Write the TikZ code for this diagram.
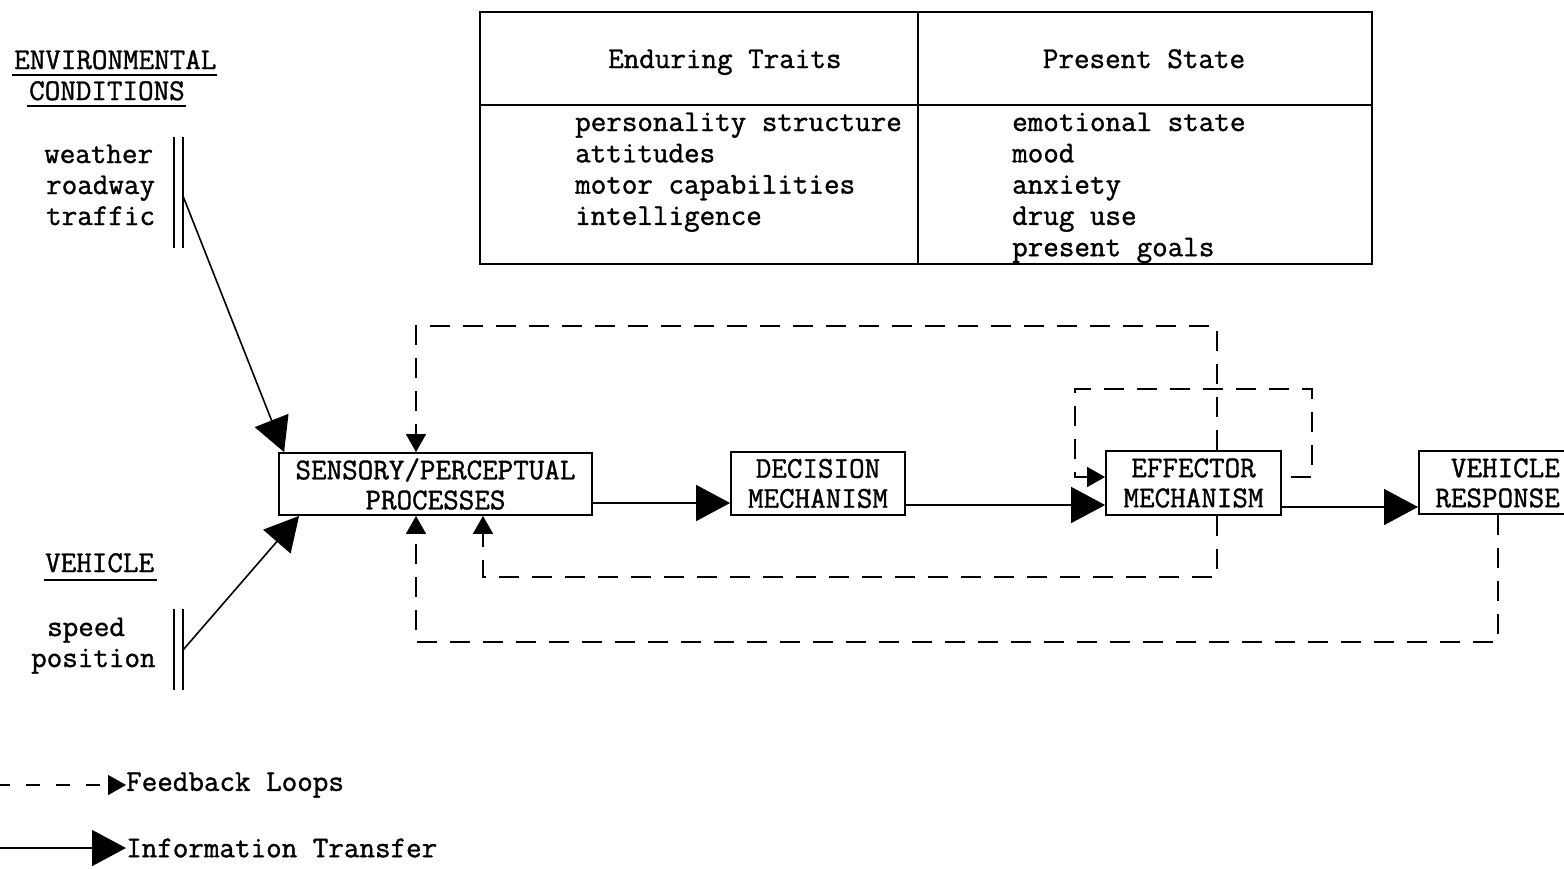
\documentclass[tikz,border=0pt]{standalone}
\usepackage{fontspec}
\newfontfamily\twfont{Latin Modern Mono}[FakeBold=1.2]
\usetikzlibrary{arrows.meta,calc}
\tikzset{
  txt/.style={font=\twfont\fontsize{30.2}{30}\selectfont, inner sep=0pt},
  box/.style={draw, line width=1.8pt, txt, align=center},
  fb/.style={line width=1.6pt, dash pattern=on 20pt off 13pt},
  info/.style={line width=1.6pt, -{Triangle[length=34pt,width=36pt]}},
  fbarrow/.style={fb, -{Triangle[length=18pt,width=20pt]}},
  rule/.style={line width=1.8pt}
}
\begin{document}
\begin{tikzpicture}[x=1pt,y=-1pt]
\useasboundingbox (0,0) rectangle (1564,868);
\clip (0,0) rectangle (1564,868);
\fill[white] (0,0) rectangle (1564,868);

% ---- table ----
\draw[rule] (480,12) rectangle (1372,264);
\draw[rule] (918,12) -- (918,264);
\draw[rule] (480,105) -- (1372,105);
\node[txt, anchor=base west] (hdrE) at (608,68) {Enduring Traits};
\node[txt, anchor=base] (hdrP) at (1144,68) {Present State};
\foreach \t [count=\i] in {personality structure, attitudes, motor capabilities, intelligence}
  \node[txt, anchor=base west] (et\i) at (575,{131+31.3*(\i-1)}) {\t};
\foreach \t [count=\i] in {emotional state, mood, anxiety, drug use, present goals}
  \node[txt, anchor=base west] (ps\i) at (1012,{131+31.3*(\i-1)}) {\t};

% ---- environmental conditions ----
\node[txt, anchor=base west] (env1) at (14,69) {ENVIRONMENTAL};
\node[txt, anchor=base west] (env2) at (29,100) {CONDITIONS};
\draw[line width=1.4pt] (12,75) -- (217,75);
\draw[line width=1.4pt] (27,106) -- (186,106);
\node[txt, anchor=base west] (w1) at (44,163) {weather};
\node[txt, anchor=base west] (w2) at (46,194) {roadway};
\node[txt, anchor=base west] (w3) at (46,225) {traffic};
\draw[line width=1.6pt] (174,137) -- (174,248);
\draw[line width=1.6pt] (183,137) -- (183,248);
\coordinate (envp) at (183,196);

% ---- vehicle ----
\node[txt, anchor=base west] (vh) at (45,572) {VEHICLE};
\draw[line width=1.4pt] (44,580) -- (157,580);
\node[txt, anchor=base west] (v1) at (47,636) {speed};
\node[txt, anchor=base west] (v2) at (31,667) {position};
\draw[line width=1.6pt] (174,609) -- (174,690);
\draw[line width=1.6pt] (183,609) -- (183,690);
\coordinate (vehp) at (183,650);

% ---- process boxes ----
\node[box, minimum width=313pt, minimum height=62pt] (sens) at (435.5,484) {SENSORY/PERCEPTUAL\\PROCESSES};
\node[box, minimum width=174pt, minimum height=63pt] (dec) at (818,483.5) {DECISION\\MECHANISM};
\node[box, minimum width=175pt, minimum height=64pt] (eff) at (1193.5,483) {EFFECTOR\\MECHANISM};
\node[draw, line width=1.8pt, minimum width=170pt, minimum height=63pt, anchor=west] (veh) at (1418,482.5) {};
\node[txt, align=right, anchor=east] (vehtxt) at (1560,483) {VEHICLE\\RESPONSE};

% ---- information transfer ----
\draw[info] (envp) -- ([xshift=6pt]sens.north west);
\draw[info] (vehp) -- ([xshift=21pt]sens.south west);
\coordinate (r1) at (0,503);
\coordinate (r2) at (0,505);
\coordinate (r3) at (0,507);
\draw[info] (sens.east |- r1) -- (dec.west |- r1);
\draw[info] (dec.east |- r2) -- (eff.west |- r2);
\draw[info] (eff.east |- r3) -- (veh.west |- r3);

% ---- feedback loops ----
\coordinate (xA) at (1217,0);
\coordinate (xS) at (416,0);
\coordinate (xS2) at (483,0);
\coordinate (xV) at (1498,0);
\coordinate (xR) at (1312,0);
\coordinate (xL) at (1075,0);
\coordinate (ytop) at (0,326);
\coordinate (yself) at (0,389);
\coordinate (ys2) at (0,477);
\coordinate (yb1) at (0,577);
\coordinate (yb2) at (0,642);
\draw[fbarrow] (eff.north -| xA) -- (ytop -| xA) -- (ytop -| xS) -- (sens.north -| xS);
\draw[fbarrow, shorten <=9pt] (eff.east |- ys2) -- (xR |- ys2) -- (xR |- yself) -- (xL |- yself) -- (xL |- ys2) -- (eff.west |- ys2);
\draw[fbarrow] (eff.south -| xA) -- (yb1 -| xA) -- (yb1 -| xS2) -- (sens.south -| xS2);
\draw[fbarrow] (veh.south -| xV) -- (yb2 -| xV) -- (yb2 -| xS) -- (sens.south -| xS);

% ---- legend ----
\node[txt, anchor=west] (fbtxt) at (126,785) {Feedback Loops};
\node[txt, anchor=west] (ittxt) at (126,848) {Information Transfer};
\coordinate (lg1) at (-4,785);
\coordinate (lg2) at (0,848);
\draw[line width=1.6pt, dash pattern=on 14pt off 16pt, -{Triangle[length=18pt,width=20pt]}] (lg1) -- (fbtxt.west);
\draw[info] (lg2) -- (ittxt.west);
\end{tikzpicture}
\end{document}
